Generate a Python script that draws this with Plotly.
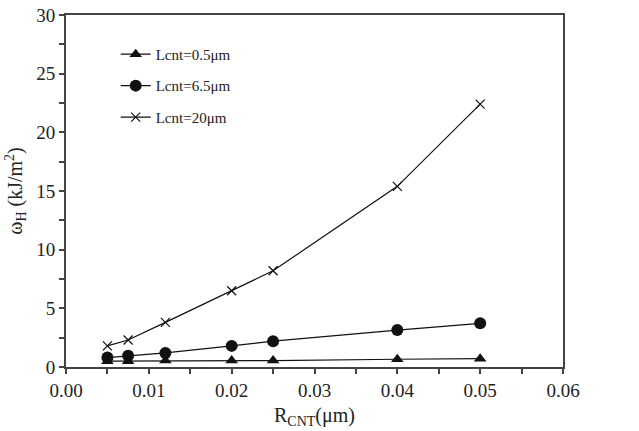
import plotly.graph_objects as go

r_cnt = [0.005, 0.0075, 0.012, 0.02, 0.025, 0.04, 0.05]
w_05 = [0.5, 0.5, 0.55, 0.55, 0.55, 0.66, 0.71]
w_65 = [0.8, 0.95, 1.2, 1.8, 2.2, 3.15, 3.72]
w_20 = [1.8, 2.3, 3.8, 6.5, 8.2, 15.4, 22.4]
names = ["Lcnt=0.5μm", "Lcnt=6.5μm", "Lcnt=20μm"]

fig = go.Figure()
series = [
    (w_05, dict(symbol="triangle-up", size=11, color="#111")),
    (w_65, dict(symbol="circle", size=12, color="#111")),
    (w_20, dict(symbol="x-thin", size=9, color="#111", line=dict(width=1.2, color="#111"))),
]
for i, (ys, mk) in enumerate(series):
    fig.add_trace(go.Scatter(
        x=r_cnt, y=ys, mode="lines+markers", name=names[i],
        legendgroup=str(i),
        line=dict(color="#111", width=1.2), marker=mk,
    ))

axis_common = dict(
    showline=True, linecolor="#444", linewidth=2, mirror=True,
    ticks="outside", ticklen=5, tickcolor="#444", tickwidth=1.5,
    showgrid=False, zeroline=False, automargin=False,
    tickfont=dict(family="Liberation Serif", size=19, color="#222"),
)
fig.update_xaxes(
    range=[0, 0.06], tickvals=[0, 0.01, 0.02, 0.03, 0.04, 0.05, 0.06],
    ticktext=["0.00", "0.01", "0.02", "0.03", "0.04", "0.05", "0.06"],
    minor=dict(ticks="outside", dtick=0.005, ticklen=5, tickcolor="#444", tickwidth=1.5),
    title=dict(text="R<sub>CNT</sub>(μm)", font=dict(family="Liberation Serif", size=20, color="#222"), standoff=8),
    **axis_common,
)
fig.update_yaxes(
    range=[0, 30], tickvals=[0, 5, 10, 15, 20, 25, 30],
    minor=dict(ticks="outside", dtick=2.5, ticklen=5, tickcolor="#444", tickwidth=1.5),
    title=dict(text="ω<sub>H</sub> (kJ/m<sup>2</sup>)", font=dict(family="Liberation Serif", size=20, color="#222"), standoff=8),
    **axis_common,
)
fig.update_layout(
    width=639, height=431,
    margin=dict(l=66, r=76, t=15, b=64),
    paper_bgcolor="white", plot_bgcolor="white",
    legend=dict(x=0.1, y=0.935, xanchor="left", yanchor="top",
                font=dict(family="Liberation Serif", size=15, color="#222"),
                bgcolor="rgba(0,0,0,0)", tracegroupgap=9, itemwidth=30),
)
fig.write_html("out.html")
